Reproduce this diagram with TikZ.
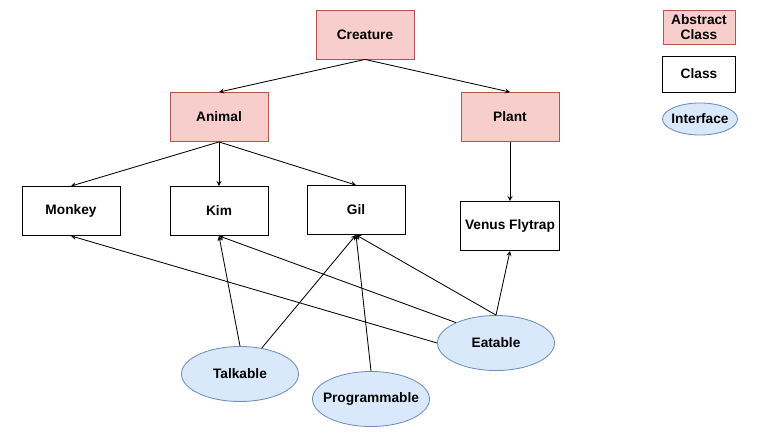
\documentclass[tikz,border=0pt]{standalone}
\usepackage{fontspec}
\setmainfont{Liberation Sans}
\usepackage{tikz}
\usetikzlibrary{shapes}
\definecolor{absfill}{HTML}{F8CECC}
\definecolor{absdraw}{HTML}{B85450}
\definecolor{intfill}{HTML}{DAE8FC}
\definecolor{intdraw}{HTML}{6C8EBF}

\begin{document}
\begin{tikzpicture}[x=0.025cm,y=-0.025cm,line width=.6pt,>=stealth,
  font=\fontsize{9.75}{11}\selectfont\bfseries,
  abstract/.style={rectangle,draw=absdraw,fill=absfill,minimum width=2.45cm,minimum height=1.225cm},
  class/.style={rectangle,draw=black,fill=white,minimum width=2.45cm,minimum height=1.225cm},
  interface/.style={ellipse,draw=intdraw,fill=intfill,inner xsep=-5pt,inner ysep=0pt,minimum width=2.925cm,minimum height=1.375cm}]
\useasboundingbox (0,0) rectangle (768,439);
%Node Coordinates
\node at (365,34.5) [abstract] (Creature) {Creature};
\node at (219,117) [abstract] (Animal) {Animal};
\node at (510,117) [abstract] (Plant) {Plant};
\node at (71,211) [class] (Monkey) {Monkey};
\node at (219,211) [class] (Kim) {Kim};
\node at (356,210) [class] (Gil) {Gil};
\node at (510,226) [class] (Venus) {Venus Flytrap};
\node at (240,374) [interface] (Talkable) {Talkable};
\node at (371,399) [interface] (Programmable) {Programmable};
\node at (496,343) [interface] (Eatable) {Eatable};
%Legend
\node at (699,27) [abstract,minimum width=1.8cm,minimum height=.85cm,inner sep=2pt,align=center] (LegAbstract) {Abstract\\Class};
\node at (699,74) [class,minimum width=1.825cm,minimum height=.9cm] (LegClass) {Class};
\node at (700,119) [interface,minimum width=1.875cm,minimum height=.8cm] (LegInterface) {Interface};
%Connections
\draw [->] (Creature.south) -- (Animal.north);
\draw [->] (Creature.south) -- (Plant.north);
\draw [->] (Animal.south) -- (Monkey.north);
\draw [->] (Animal.south) -- (Kim.north);
\draw [->] (Animal.south) -- (Gil.north);
\draw [->] (Plant.south) -- (Venus.north);
% Interfaces
\draw [->] (Talkable.north) -- (Kim.south);
\draw [->] (Talkable.50) -- (Gil.south);
\draw [->] (Programmable.north) -- (Gil.south);
\draw [->] (Eatable.west) -- (Monkey.south);
\draw [->] (Eatable.153) -- (Kim.south);
\draw [->] (Eatable.north) -- (Gil.south);
\draw [->] (Eatable.north) -- (Venus.south);
\end{tikzpicture}
\end{document}
